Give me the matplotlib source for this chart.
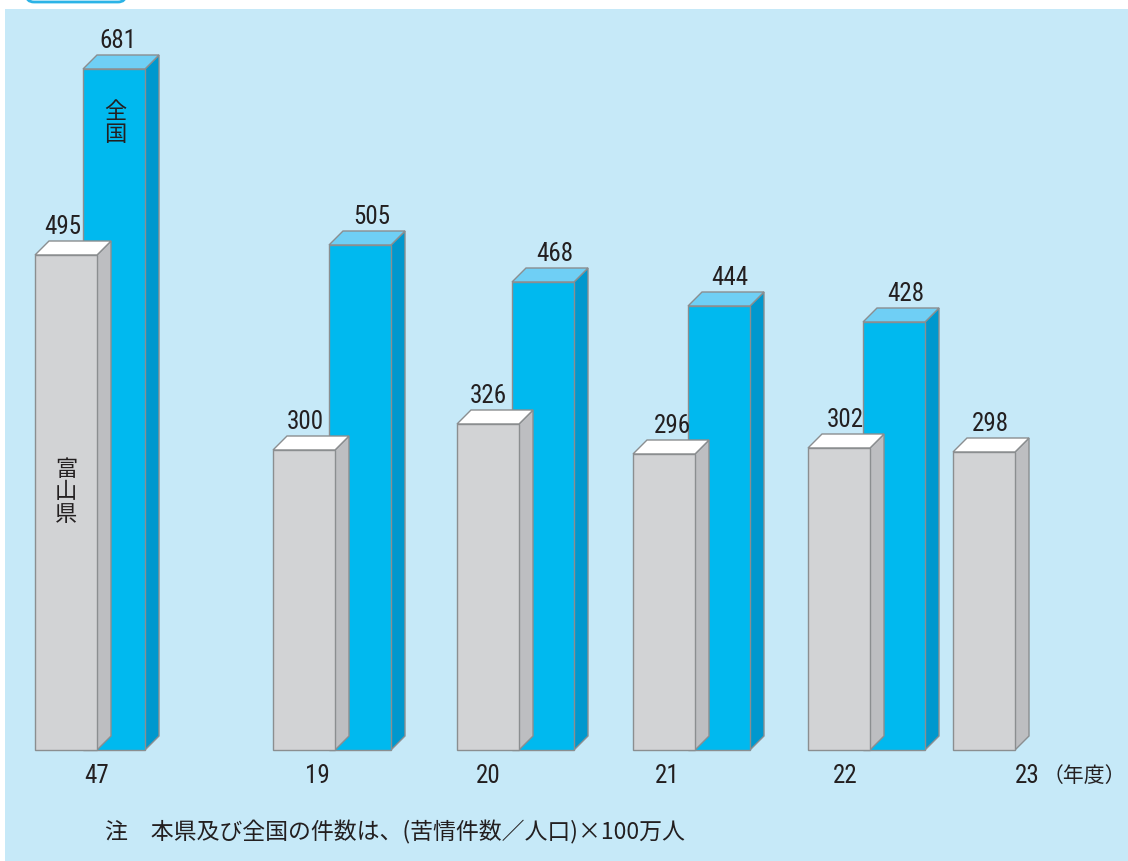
import matplotlib
matplotlib.use('Agg')
import matplotlib.pyplot as plt
from matplotlib.patches import Polygon, Rectangle, FancyBboxPatch
from matplotlib.transforms import IdentityTransform

# data
years = ['47', '19', '20', '21', '22', '23']
toyama = [495, 300, 326, 296, 302, 298]
zenkoku = [681, 505, 468, 444, 428, None]

# layout (pixel positions of the gray bar fronts, blue offset, label nudges)
gray_x = [35, 273, 457, 633, 808, 953]
blue_off = [48, 56, 55, 55, 55, 55]
tick_x = [97, 317, 488, 667, 845, 1027]
gray_lab_dx = [-3, 1, 0, 8, 6, 6]
blue_lab_dx = [4, 12, 12, 11, 12, 0]
W = 62      # front width (px)
D = 14      # depth (px)
SC = 1.0    # px per unit
DY = D / SC

GRAY = ('#d2d3d5', '#bdbec1', '#ffffff')
BLUE = ('#00b9ef', '#0098ce', '#6fcff5')
EDGE = '#8b8e90'
BG = '#c6e9f8'
INK = '#231f20'

NUM_FONT = ['Roboto Condensed', 'Liberation Sans Narrow', 'Roboto', 'DejaVu Sans']
JP_FONT = ['Noto Sans CJK JP', 'DejaVu Sans']

fig = plt.figure(figsize=(11.28, 8.62), dpi=100)
ax = fig.add_axes([0, 0, 1, 1])
ax.set_xlim(0, 1128)
ax.set_ylim((751 - 862) / SC, 751 / SC)
ax.axis('off')

# background panel
ax.add_patch(Rectangle((5 / 1128, 0), 1, (862 - 10) / 862, transform=ax.transAxes,
                       facecolor=BG, edgecolor='none', zorder=0))
# little tab at top-left
ax.add_patch(FancyBboxPatch((26, 862 - 3), 100, 20, boxstyle='round,pad=0,rounding_size=8',
                            transform=IdentityTransform(), facecolor='white',
                            edgecolor='#2bb3e6', linewidth=2, zorder=1))


def bar3d(x0, v, cols, z):
    front, side, top = cols
    ax.add_patch(Polygon([(x0 + W, 0), (x0 + W + D, DY), (x0 + W + D, v + DY), (x0 + W, v)],
                         closed=True, facecolor=side, edgecolor=EDGE, lw=1, zorder=z))
    ax.add_patch(Polygon([(x0, v), (x0 + D, v + DY), (x0 + W + D, v + DY), (x0 + W, v)],
                         closed=True, facecolor=top, edgecolor=EDGE, lw=1, zorder=z))
    ax.add_patch(Rectangle((x0, 0), W, v, facecolor=front, edgecolor=EDGE, lw=1, zorder=z))


for i in range(len(years)):
    z = 2 + i * 2
    if zenkoku[i] is not None:
        bx = gray_x[i] + blue_off[i]
        bar3d(bx, zenkoku[i], BLUE, z)
        ax.text(bx + W / 2 + blue_lab_dx[i], zenkoku[i] + DY + 8, str(zenkoku[i]),
                ha='center', va='baseline', fontsize=18, family=NUM_FONT, color=INK, zorder=20)
    gx = gray_x[i]
    bar3d(gx, toyama[i], GRAY, z + 1)
    ax.text(gx + W / 2 + gray_lab_dx[i], toyama[i] + DY + 8, str(toyama[i]),
            ha='center', va='baseline', fontsize=18, family=NUM_FONT, color=INK, zorder=20)
    ax.text(tick_x[i], -25, years[i], ha='center', va='center',
            fontsize=18, family=NUM_FONT, color=INK, zorder=20)

ax.text(1043, -25, '（年度）', ha='left', va='center', fontsize=15, family=JP_FONT,
        color=INK, zorder=20)

# series labels written vertically in the bars
ax.text(gray_x[0] + blue_off[0] + W / 2 + 1, 628, '全\n国', ha='center', va='center',
        fontsize=16, family=JP_FONT, color=INK, linespacing=1.05, zorder=20)
ax.text(gray_x[0] + W / 2, 259, '富\n山\n県', ha='center', va='center',
        fontsize=16, family=JP_FONT, color=INK, linespacing=0.95, zorder=20)

ax.text(105, -81, '注　本県及び全国の件数は、(苦情件数／人口)×100万人', ha='left', va='center',
        fontsize=16.5, family=JP_FONT, color=INK, zorder=20)

fig.savefig('out.png', dpi=100)
